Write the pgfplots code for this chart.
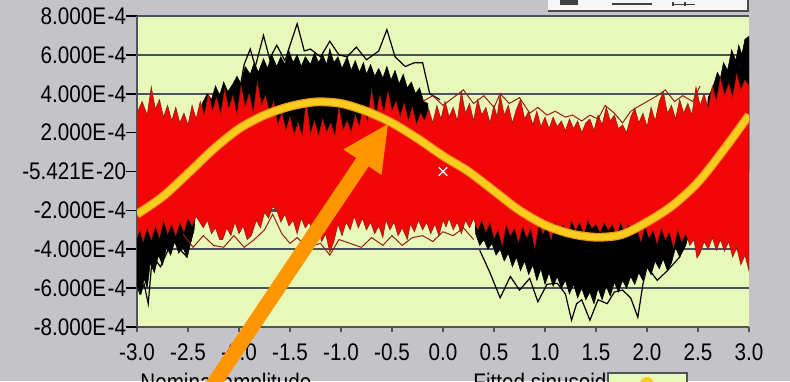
\documentclass[border=0pt]{standalone}
\usepackage{pgfplots}
\pgfplotsset{compat=1.18}
\usepackage{fontspec}
\setmainfont{Liberation Sans}
\newfontfamily\lvfont[FakeStretch=0.86]{Liberation Sans}
\definecolor{bggray}{RGB}{196,196,200}
\definecolor{plotbg}{RGB}{232,248,184}
\definecolor{gridc}{RGB}{72,82,96}
\definecolor{redc}{RGB}{242,6,6}
\definecolor{redline}{RGB}{150,30,20}
\definecolor{yellowc}{RGB}{250,204,30}
\definecolor{yellowrim}{RGB}{232,150,20}
\definecolor{orangec}{RGB}{255,150,0}
\definecolor{axc}{RGB}{80,84,90}
\begin{document}
\begin{tikzpicture}
\fill[bggray] (0,0) rectangle (395pt,190.5pt);
\begin{axis}[
  at={(68.5pt,27pt)}, anchor=south west,
  scale only axis, width=306pt, height=155.5pt,
  xmin=-3, xmax=3, ymin=-8, ymax=8,
  axis background/.style={fill=plotbg},
  axis lines*=left,
  axis line style={-, draw=axc, line width=1pt},
  ymajorgrids, grid style={gridc, line width=1.2pt},
  tick align=outside,
  ytick={-8,-6,-4,-2,0,2,4,6,8},
  yticklabels={-8.000E\kern0.8pt-4,-6.000E\kern0.8pt-4,-4.000E\kern0.8pt-4,-2.000E\kern0.8pt-4,-5.421E\kern0.8pt-20,2.000E\kern0.8pt-4,4.000E\kern0.8pt-4,6.000E\kern0.8pt-4,8.000E\kern0.8pt-4},
  xtick={-3,-2.5,-2,-1.5,-1,-0.5,0,0.5,1,1.5,2,2.5,3},
  xticklabels={-3.0,-2.5,-2.0,-1.5,-1.0,-0.5,0.0,0.5,1.0,1.5,2.0,2.5,3.0},
  ytick style={black, line width=0.8pt, /pgfplots/major tick length=5.5pt},
  xtick style={axc, line width=0.8pt, /pgfplots/major tick length=2.5pt},
  yticklabel style={font=\lvfont\fontsize{12}{14}\selectfont, anchor=east, inner sep=0pt, xshift=-1pt},
  xticklabel style={font=\lvfont\fontsize{12}{14}\selectfont, anchor=north, inner sep=0pt, yshift=-4pt},
  clip=true,
]
% black traces (envelope)
\addplot[fill=black, draw=black, line width=0.3pt] coordinates {
(-3.00,0) (-2.40,0) (-2.36,3.5) (-2.31,4.0) (-2.27,3.7) (-2.23,4.4) (-2.19,3.9) (-2.15,4.6) (-2.11,4.1) (-2.06,4.5) (-2.02,4.9) (-1.98,4.5) (-1.94,5.4) (-1.89,5.0) (-1.85,5.6) (-1.81,5.1) (-1.76,5.8) (-1.72,5.3) (-1.68,6.0) (-1.63,5.4) (-1.59,5.9) (-1.55,5.5) (-1.51,6.2) (-1.47,5.6) (-1.43,6.0) (-1.39,5.4) (-1.35,5.9) (-1.30,5.5) (-1.26,6.1) (-1.22,5.6) (-1.18,6.0) (-1.14,5.5) (-1.11,6.3) (-1.07,5.6) (-1.03,5.9) (-0.99,5.3) (-0.94,5.9) (-0.90,5.2) (-0.86,5.7) (-0.82,5.1) (-0.78,5.6) (-0.75,5.0) (-0.71,5.5) (-0.67,4.9) (-0.63,5.3) (-0.59,4.8) (-0.55,5.4) (-0.51,4.7) (-0.47,5.2) (-0.43,4.5) (-0.39,5.0) (-0.35,4.3) (-0.31,4.6) (-0.27,4.0) (-0.23,4.3) (-0.19,3.6) (-0.15,3.5) (-0.10,0) (2.55,0) (2.60,3.8) (2.65,4.4) (2.69,5.1) (2.72,4.8) (2.75,5.6) (2.79,5.2) (2.83,6.25) (2.87,5.7) (2.90,6.5) (2.93,6.0) (2.96,6.8) (3.00,6.95)
(3.00,0) (2.46,0) (2.42,-3.0) (2.38,-3.8) (2.32,-4.4) (2.28,-3.9) (2.24,-4.7) (2.20,-5.1) (2.16,-4.5) (2.12,-5.0) (2.08,-4.6) (2.04,-5.3) (2.00,-4.9) (1.96,-5.6) (1.92,-5.2) (1.88,-5.8) (1.84,-5.4) (1.80,-6.0) (1.76,-5.6) (1.72,-6.2) (1.68,-5.7) (1.64,-6.4) (1.60,-5.9) (1.56,-6.6) (1.52,-6.0) (1.48,-6.8) (1.44,-6.2) (1.40,-6.6) (1.36,-6.0) (1.32,-6.5) (1.28,-5.8) (1.24,-6.3) (1.20,-5.6) (1.16,-6.0) (1.12,-5.4) (1.08,-5.9) (1.04,-5.2) (1.00,-5.8) (0.96,-5.0) (0.92,-5.6) (0.88,-4.8) (0.84,-5.3) (0.80,-4.6) (0.76,-5.1) (0.72,-4.4) (0.68,-4.9) (0.64,-4.2) (0.60,-4.6) (0.56,-4.0) (0.52,-4.3) (0.48,-3.7) (0.44,-4.0) (0.40,-3.5) (0.36,-3.8) (0.32,-3.2) (0.30,0) (-2.40,0) (-2.44,-3.0) (-2.48,-3.8) (-2.51,-4.4) (-2.55,-3.9) (-2.59,-4.2) (-2.63,-3.6) (-2.67,-4.3) (-2.71,-3.9) (-2.75,-4.8) (-2.79,-4.3) (-2.83,-5.2) (-2.87,-4.7) (-2.90,-6.0) (-2.93,-5.5) (-2.96,-6.3) (-3.00,-5.8)
};
% black outlier traces
\addplot[black, line width=0.6pt] coordinates {
(-2.10,4.2) (-2.00,4.0) (-1.95,5.5) (-1.89,6.3) (-1.84,5.4) (-1.76,7.0) (-1.70,5.8) (-1.63,6.5) (-1.55,5.7) (-1.43,7.6) (-1.36,6.2) (-1.30,6.3) (-1.20,5.9) (-1.11,6.7) (-1.02,6.0) (-0.94,5.9) (-0.85,6.4) (-0.75,5.75) (-0.63,6.2) (-0.55,7.3) (-0.47,5.9) (-0.37,5.4) (-0.28,5.6) (-0.20,5.6) (-0.13,4.0) (-0.03,3.7)
};
\addplot[black, line width=0.6pt] coordinates {
(0.36,-4.05) (0.46,-5.2) (0.56,-6.5) (0.66,-5.4) (0.75,-6.1) (0.85,-5.5) (0.93,-6.7) (1.02,-5.8) (1.12,-5.75) (1.20,-6.3) (1.26,-7.65) (1.31,-6.8) (1.36,-6.6) (1.44,-7.65) (1.52,-6.6) (1.61,-6.8) (1.68,-6.2) (1.76,-6.1) (1.84,-6.5) (1.91,-7.5) (1.96,-5.8) (2.00,-4.9) (2.10,-5.6) (2.20,-5.1) (2.32,-4.4) (2.42,-3.0)
};
\addplot[black, line width=0.6pt] coordinates {
(-3.00,-5.9) (-2.97,-6.3) (-2.93,-5.8) (-2.89,-6.8) (-2.86,-5.0) (-2.84,-4.4) (-2.77,-4.9) (-2.65,-3.5) (-2.58,-4.0) (-2.51,-4.4) (-2.45,-3.0)
};
% red traces (envelope)
\addplot[fill=redc, draw=redline, line width=0.3pt] coordinates {
(-3.00,3.0) (-2.95,3.6) (-2.90,2.9) (-2.86,4.35) (-2.82,3.2) (-2.78,3.7) (-2.74,2.8) (-2.70,3.4) (-2.66,2.6) (-2.62,3.3) (-2.58,2.5) (-2.54,3.0) (-2.50,2.4) (-2.46,3.4) (-2.42,2.7) (-2.38,3.6) (-2.34,2.9) (-2.30,4.0) (-2.26,3.1) (-2.22,3.8) (-2.18,2.9) (-2.14,4.2) (-2.10,3.2) (-2.06,3.9) (-2.02,2.9) (-1.98,4.4) (-1.94,3.3) (-1.90,4.0) (-1.86,3.0) (-1.82,4.6) (-1.78,3.4) (-1.74,3.9) (-1.70,3.0) (-1.66,3.6) (-1.62,2.4) (-1.58,3.0) (-1.54,2.1) (-1.50,2.8) (-1.46,1.9) (-1.42,2.5) (-1.38,1.8) (-1.34,3.6) (-1.30,1.9) (-1.26,2.6) (-1.22,1.8) (-1.18,2.7) (-1.14,2.0) (-1.10,2.5) (-1.06,1.8) (-1.02,3.3) (-0.98,2.1) (-0.94,2.6) (-0.90,2.0) (-0.86,2.9) (-0.82,2.3) (-0.78,3.4) (-0.74,2.5) (-0.70,4.2) (-0.66,2.8) (-0.62,3.9) (-0.58,3.0) (-0.54,4.1) (-0.50,3.1) (-0.46,3.6) (-0.42,2.8) (-0.38,3.5) (-0.34,2.6) (-0.30,3.3) (-0.26,2.4) (-0.22,3.0) (-0.18,2.6) (-0.14,3.2) (-0.10,2.5) (-0.06,3.4) (-0.02,2.7) (0.02,3.6) (0.06,2.8) (0.10,3.3) (0.14,2.6) (0.18,4.1) (0.22,3.0) (0.26,3.5) (0.30,2.6) (0.34,3.7) (0.38,2.9) (0.42,3.3) (0.46,2.5) (0.50,3.4) (0.53,2.8) (0.56,3.95) (0.60,2.9) (0.64,3.4) (0.68,2.5) (0.72,3.2) (0.76,3.7) (0.80,2.7) (0.84,3.1) (0.88,2.4) (0.92,3.1) (0.96,2.3) (1.00,2.8) (1.04,2.2) (1.08,2.8) (1.12,2.3) (1.16,2.6) (1.20,2.1) (1.24,2.7) (1.28,2.2) (1.32,2.6) (1.36,2.0) (1.40,2.5) (1.44,2.7) (1.48,2.1) (1.52,2.9) (1.56,2.4) (1.60,3.3) (1.64,2.6) (1.68,2.9) (1.72,2.2) (1.76,2.4) (1.80,2.0) (1.84,2.8) (1.88,3.25) (1.92,2.5) (1.96,3.0) (2.00,2.3) (2.04,3.3) (2.08,2.6) (2.12,3.6) (2.16,4.1) (2.20,3.0) (2.24,3.4) (2.28,2.7) (2.32,3.7) (2.36,3.0) (2.40,3.5) (2.44,2.9) (2.48,4.35) (2.52,3.4) (2.56,4.0) (2.60,3.2) (2.64,4.4) (2.68,3.6) (2.72,4.8) (2.76,3.9) (2.80,4.5) (2.84,3.8) (2.88,5.0) (2.92,4.2) (2.96,4.7) (3.00,4.4)
(3.00,-5.1) (2.96,-4.3) (2.92,-4.8) (2.88,-3.9) (2.84,-4.4) (2.80,-3.6) (2.76,-4.1) (2.72,-3.5) (2.68,-4.05) (2.64,-3.4) (2.60,-4.0) (2.56,-3.6) (2.52,-4.2) (2.49,-4.45) (2.46,-3.5) (2.42,-3.8) (2.38,-3.2) (2.34,-3.6) (2.30,-3.0) (2.26,-3.9) (2.22,-3.1) (2.18,-3.5) (2.14,-2.9) (2.10,-3.7) (2.06,-3.0) (2.02,-3.4) (1.98,-2.8) (1.94,-3.6) (1.90,-2.9) (1.86,-3.2) (1.82,-2.7) (1.78,-3.1) (1.74,-2.6) (1.70,-3.3) (1.66,-2.7) (1.62,-3.0) (1.58,-2.6) (1.54,-3.1) (1.50,-2.7) (1.46,-2.9) (1.42,-2.5) (1.38,-3.2) (1.34,-2.6) (1.30,-3.0) (1.26,-2.5) (1.22,-3.4) (1.18,-2.7) (1.14,-3.1) (1.10,-2.6) (1.06,-3.5) (1.02,-2.8) (0.98,-3.2) (0.94,-2.7) (0.90,-3.9) (0.86,-2.9) (0.82,-3.4) (0.78,-2.8) (0.74,-3.6) (0.70,-2.9) (0.66,-3.3) (0.62,-2.7) (0.58,-3.8) (0.54,-3.0) (0.50,-3.4) (0.46,-2.6) (0.42,-3.1) (0.38,-2.5) (0.34,-3.0) (0.30,-2.4) (0.26,-2.9) (0.22,-2.5) (0.18,-3.2) (0.14,-2.6) (0.10,-3.0) (0.06,-2.4) (0.03,-2.85) (0.00,-2.5) (-0.04,-3.3) (-0.08,-2.7) (-0.12,-3.2) (-0.16,-2.6) (-0.20,-3.0) (-0.24,-2.5) (-0.28,-3.1) (-0.32,-2.7) (-0.35,-3.5) (-0.40,-2.9) (-0.44,-3.3) (-0.48,-2.6) (-0.52,-3.0) (-0.56,-2.5) (-0.59,-3.4) (-0.63,-2.8) (-0.67,-3.2) (-0.71,-2.6) (-0.75,-3.0) (-0.79,-2.4) (-0.83,-2.9) (-0.87,-2.3) (-0.91,-3.0) (-0.95,-2.6) (-0.99,-3.3) (-1.03,-2.7) (-1.07,-3.6) (-1.11,-4.15) (-1.15,-3.2) (-1.19,-3.6) (-1.23,-2.8) (-1.27,-3.3) (-1.31,-2.6) (-1.35,-2.9) (-1.39,-2.4) (-1.43,-3.2) (-1.47,-2.5) (-1.51,-2.8) (-1.55,-2.2) (-1.59,-2.6) (-1.63,-2.0) (-1.67,-1.8) (-1.71,-2.4) (-1.75,-2.1) (-1.79,-2.9) (-1.83,-2.5) (-1.88,-3.3) (-1.92,-3.5) (-1.96,-2.8) (-2.00,-3.2) (-2.04,-2.6) (-2.08,-3.3) (-2.12,-2.9) (-2.16,-3.5) (-2.19,-3.5) (-2.23,-2.9) (-2.27,-3.2) (-2.31,-2.5) (-2.35,-2.9) (-2.38,-2.65) (-2.42,-2.3) (-2.46,-2.8) (-2.50,-2.4) (-2.54,-3.1) (-2.58,-2.6) (-2.62,-3.3) (-2.66,-2.7) (-2.70,-3.2) (-2.74,-2.5) (-2.78,-3.4) (-2.82,-2.8) (-2.86,-3.5) (-2.90,-2.9) (-2.94,-3.6) (-2.97,-3.0) (-3.00,-3.4)
};
% dark red outlier traces
\addplot[redline, line width=0.5pt] coordinates {
(-2.55,-3.2) (-2.45,-3.9) (-2.35,-3.3) (-2.25,-3.8) (-2.15,-3.9) (-2.05,-3.3) (-1.95,-3.9) (-1.85,-3.5) (-1.75,-3.0) (-1.67,-2.2) (-1.58,-3.2) (-1.50,-3.7) (-1.43,-3.4) (-1.33,-3.9) (-1.20,-3.7) (-1.11,-4.3) (-1.02,-3.5) (-0.91,-3.7) (-0.80,-3.9) (-0.70,-3.4) (-0.59,-3.8) (-0.50,-3.3) (-0.40,-3.8) (-0.30,-3.4) (-0.20,-3.3) (-0.10,-3.6) (0.00,-3.1) (0.10,-3.3) (0.20,-2.9) (0.30,-3.5)
};
\addplot[redline, line width=0.5pt] coordinates {
(-0.20,3.6) (-0.10,3.9) (0.00,3.4) (0.10,3.8) (0.20,4.2) (0.30,3.5) (0.40,3.9) (0.50,3.3) (0.56,4.0) (0.65,3.5) (0.75,3.8) (0.85,3.0) (0.93,3.3) (1.02,2.9) (1.10,3.1) (1.20,2.8) (1.27,2.9) (1.36,2.6) (1.44,2.9) (1.52,2.7) (1.59,3.4) (1.68,3.0) (1.76,2.5) (1.84,3.1) (1.90,3.3) (2.00,3.6) (2.10,3.9) (2.18,4.2) (2.27,3.6) (2.35,3.9) (2.45,3.6) (2.52,4.4)
};
% fitted sine
\addplot[yellowrim, line width=4.4pt, smooth] coordinates {
(-3.0,-2.2) (-2.75,-1.3) (-2.5,-0.1) (-2.25,1.15) (-2.0,2.2) (-1.75,2.9) (-1.5,3.35) (-1.25,3.58) (-1.0,3.5) (-0.75,3.1) (-0.5,2.5) (-0.25,1.7) (0.0,0.8) (0.25,0.0) (0.5,-1.0) (0.75,-2.0) (1.0,-2.75) (1.25,-3.2) (1.5,-3.38) (1.75,-3.25) (2.0,-2.6) (2.25,-1.75) (2.5,-0.55) (2.75,1.1) (3.0,2.9)
};
\addplot[yellowc, line width=3.2pt, smooth] coordinates {
(-3.0,-2.2) (-2.75,-1.3) (-2.5,-0.1) (-2.25,1.15) (-2.0,2.2) (-1.75,2.9) (-1.5,3.35) (-1.25,3.58) (-1.0,3.5) (-0.75,3.1) (-0.5,2.5) (-0.25,1.7) (0.0,0.8) (0.25,0.0) (0.5,-1.0) (0.75,-2.0) (1.0,-2.75) (1.25,-3.2) (1.5,-3.38) (1.75,-3.25) (2.0,-2.6) (2.25,-1.75) (2.5,-0.55) (2.75,1.1) (3.0,2.9)
};
% cursor
\addplot[only marks, mark=x, mark size=3pt, white, line width=0.6pt] coordinates {(0,0)};
\end{axis}
\begin{scope}
\clip (0,0) rectangle (395pt,190.5pt);
\begin{scope}[x=0.5pt,y=-0.5pt,shift={(0,190.5pt)}]
% toolbar
\fill[white!85!bggray] (548,-2) rectangle (748,11);
\draw[gray!60!black, line width=0.8pt] (548,11) -- (748,11) -- (748,-2);
\fill[black!75] (560,0) rectangle (578,5);
\fill[black!75] (612,3) rectangle (652,5);
\fill[black!75] (672,2) rectangle (674,6);
\fill[black!75] (684,2) rectangle (686,6);
\fill[black!75] (672,4) rectangle (695,5.5);
% bottom labels
\node[anchor=north west, inner sep=0pt, font=\lvfont\fontsize{12}{14}\selectfont] at (140,373) {Nominal amplitude};
\node[anchor=north west, inner sep=0pt, font=\lvfont\fontsize{12}{14}\selectfont] at (473,373) {Fitted sinusoid};
\fill[plotbg] (608,373) rectangle (687,390);
\draw[axc, line width=0.8pt] (608,390) -- (608,373) -- (687,373) -- (687,390);
\fill[yellowc] (647,384) circle (7);
% arrow
\fill[orangec] (388,124) -- (381.5,175) -- (368.6,166.4) -- (209.0,404.2) -- (196.6,395.8) -- (356.2,158.0) -- (343.3,149.4) -- cycle;
\end{scope}
\end{scope}
\pgfresetboundingbox
\useasboundingbox (0,0) rectangle (395pt,190.5pt);
\end{tikzpicture}
\end{document}
